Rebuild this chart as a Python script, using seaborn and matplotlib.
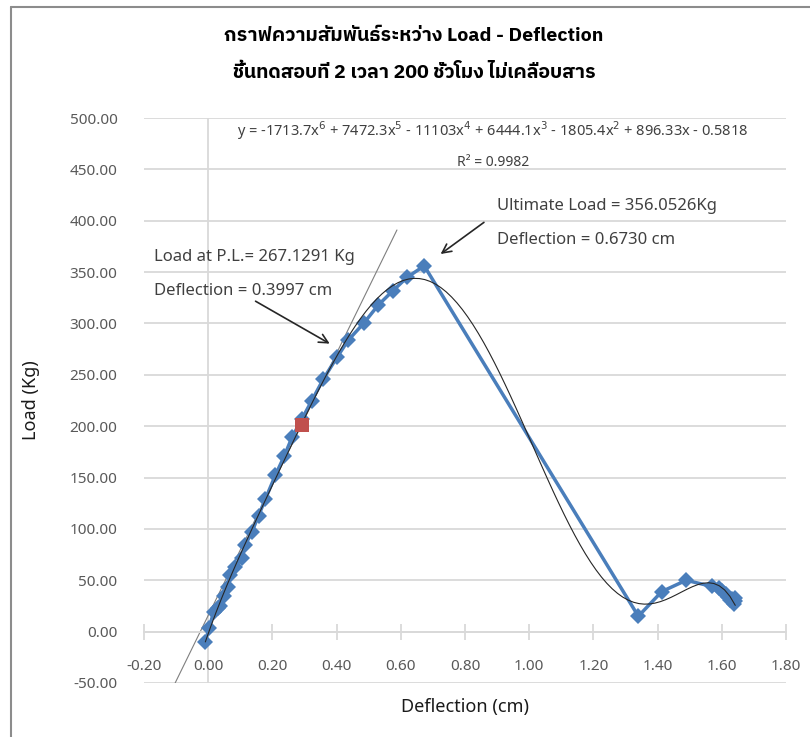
import matplotlib
matplotlib.use("Agg")
import matplotlib.pyplot as plt
from matplotlib import font_manager
from matplotlib.lines import Line2D
import pandas as pd
import seaborn as sns

# ค่าที่อ่านจากกราฟ (Deflection cm, Load Kg)
deflection = [-0.009, 0.003, 0.017, 0.029, 0.037, 0.048, 0.063, 0.069, 0.084, 0.105,
              0.115, 0.136, 0.157, 0.178, 0.209, 0.237, 0.261, 0.292, 0.323, 0.359,
              0.401, 0.437, 0.484, 0.530, 0.576, 0.620, 0.673, 1.340, 1.413, 1.489,
              1.569, 1.590, 1.600, 1.612, 1.620, 1.626, 1.632, 1.637, 1.642, 1.640]
load = [-10, 4, 19, 23, 25, 35, 43, 55, 63, 72,
        84, 97, 113, 129, 152, 171, 189, 207, 225, 246,
        267, 284, 300, 318, 332, 345, 356.05, 15, 39, 50,
        44, 42, 40, 37, 34, 31, 32, 27, 30, 33]

# จุดสีแดง
pl_x = [0.292]
pl_y = [201]

# เส้นสัมผัส (proportional limit)
tangent_x = [-0.103, 0.588]
tangent_y = [-50, 391]

x_ticks = [-0.2, 0.0, 0.2, 0.4, 0.6, 0.8, 1.0, 1.2, 1.4, 1.6, 1.8]
y_ticks = [-50, 0, 50, 100, 150, 200, 250, 300, 350, 400, 450, 500]

title_1 = "กราฟความสัมพันธ์ระหว่าง Load - Deflection"
title_2 = "ชิ้นทดสอบที่ 2 เวลา 200 ชั่วโมง ไม่เคลือบสาร"
equation = ("y = -1713.7x$^{6}$ + 7472.3x$^{5}$ - 11103x$^{4}$ + 6444.1x$^{3}$"
            " - 1805.4x$^{2}$ + 896.33x - 0.5818")
r2_text = "R² = 0.9982"

sns.set_theme(style="white")

# หาฟอนต์ภาษาไทยที่มีในเครื่อง
fonts = font_manager.fontManager.ttflist
installed = set(f.name for f in fonts)
candidates = ["Noto Sans Thai Looped", "Noto Sans Thai", "IBM Plex Sans Thai", "Sarabun", "Anuphan", "Kanit"]
thai = [c for c in candidates if c in installed][:1]
bold_ok = [c for c in candidates
           if any(f.name == c and (f.weight == "bold" or (isinstance(f.weight, int) and f.weight >= 600))
                  for f in fonts)][:1]
fam = thai + ["Noto Sans", "DejaVu Sans"]
title_fam = (bold_ok or thai) + ["Noto Sans", "DejaVu Sans"]
plt.rcParams["font.family"] = fam
plt.rcParams["mathtext.fontset"] = "dejavusans"

df = pd.DataFrame({"Deflection": deflection, "Load": load})

fig = plt.figure(figsize=(8.1, 7.37), dpi=100)
ax = fig.add_axes([144 / 810, 1 - 683 / 737, 642 / 810, 565 / 737])

grid_c = "#d9d9d9"
for yv in y_ticks:
    ax.axhline(yv, color=grid_c, lw=1.3, zorder=0)
ax.axvline(0, color=grid_c, lw=1.3, zorder=0)

# trendline polynomial order 6
sns.regplot(data=df, x="Deflection", y="Load", order=6, ci=None, scatter=False,
            line_kws={"color": "#262626", "lw": 0.8, "zorder": 4}, ax=ax)

sns.lineplot(x=tangent_x, y=tangent_y, color="#7f7f7f", lw=0.8, ax=ax, zorder=2)

sns.lineplot(data=df, x="Deflection", y="Load", sort=False, color="#4a7ebb", lw=2.5,
             marker="D", markersize=8, markeredgewidth=0, ax=ax, zorder=3)
sns.scatterplot(x=pl_x, y=pl_y, marker="s", s=110, color="#c0504d", edgecolor="#c0504d",
                linewidth=0, ax=ax, zorder=5)

ax.set_xlim(-0.2, 1.8)
ax.set_ylim(-50, 500)
ax.set_xticks(x_ticks)
ax.set_yticks(y_ticks)
ax.set_xticklabels([f"{v:.2f}" for v in x_ticks])
ax.set_yticklabels([f"{v:.2f}" for v in y_ticks])
for s in ["top", "right", "left"]:
    ax.spines[s].set_visible(False)
ax.spines["bottom"].set_position(("data", 0))
ax.spines["bottom"].set_color(grid_c)
ax.spines["bottom"].set_linewidth(1.3)
ax.tick_params(axis="x", direction="inout", length=12, width=1.3, color=grid_c,
               pad=14, labelsize=11, labelcolor="#595959", bottom=True)
ax.tick_params(axis="y", length=0, pad=19, labelsize=11, labelcolor="#595959")

ax.set_xlabel("Deflection (cm)", fontsize=13, color="#1a1a1a")
ax.set_ylabel("Load (Kg)", fontsize=13, color="#1a1a1a")
ax.xaxis.set_label_coords(0.5, -0.026)
ax.yaxis.set_label_coords(-0.162, 0.5)

fig.text(414 / 810, 1 - 36 / 737, title_1, ha="center", va="center", fontsize=14,
         fontweight="bold", family=title_fam, color="#000000")
fig.text(414 / 810, 1 - 73 / 737, title_2, ha="center", va="center", fontsize=14,
         fontweight="bold", family=title_fam, color="#000000")

ax.text(0.885, 488, equation, ha="center", va="center", fontsize=10.5, color="#404040")
ax.text(0.888, 457, r2_text, ha="center", va="center", fontsize=10, color="#404040")

ax.text(-0.17, 365, "Load at P.L.= 267.1291 Kg", ha="left", va="center", fontsize=12, color="#404040")
ax.text(-0.17, 332, "Deflection = 0.3997 cm", ha="left", va="center", fontsize=12, color="#404040")
ax.text(0.90, 414, "Ultimate Load = 356.0526Kg", ha="left", va="center", fontsize=12, color="#404040")
ax.text(0.90, 381, "Deflection = 0.6730 cm", ha="left", va="center", fontsize=12, color="#404040")

ax.annotate("", xy=(0.386, 279), xytext=(0.140, 323),
            arrowprops=dict(arrowstyle="->", color="#262626", lw=1.2, mutation_scale=16))
ax.annotate("", xy=(0.717, 366), xytext=(0.866, 400),
            arrowprops=dict(arrowstyle="->", color="#262626", lw=1.2, mutation_scale=16))

# กรอบของแผนภูมิ
fig.add_artist(Line2D([11 / 810, 11 / 810], [0, 1 - 7 / 737], color="#8c8c8c", lw=1.5))
fig.add_artist(Line2D([11 / 810, 1], [1 - 7 / 737, 1 - 7 / 737], color="#8c8c8c", lw=1.5))

fig.savefig("out.png", dpi=100)
